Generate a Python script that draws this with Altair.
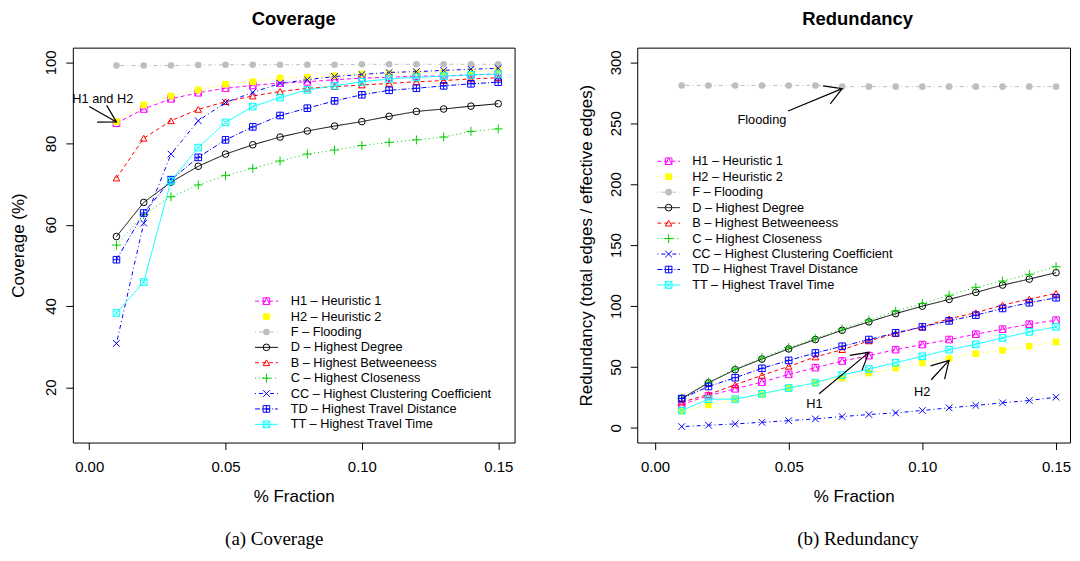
import altair as alt
import pandas as pd

FONT = "Liberation Sans"
SERIF = "Liberation Serif"

fractions = [0.01, 0.02, 0.03, 0.04, 0.05, 0.06, 0.07, 0.08, 0.09, 0.10, 0.11, 0.12, 0.13, 0.14, 0.15]

series_keys = ["H1", "H2", "F", "D", "B", "C", "CC", "TD", "TT"]
series_labels = [
    "H1 – Heuristic 1",
    "H2 – Heuristic 2",
    "F – Flooding",
    "D – Highest Degree",
    "B – Highest Betweeneess",
    "C – Highest Closeness",
    "CC – Highest Clustering Coefficient",
    "TD – Highest Travel Distance",
    "TT – Highest Travel Time",
]

# Coverage (%)
cov_h1 = [85.0, 88.5, 91.0, 92.5, 93.6, 94.3, 94.9, 95.2, 95.7, 96.1, 96.3, 96.6, 96.6, 96.9, 97.1]
cov_h2 = [85.4, 89.5, 91.7, 93.2, 94.6, 95.2, 96.1, 96.3, 96.7, 97.1, 97.3, 97.5, 97.5, 97.7, 98.0]
cov_f = [99.2, 99.2, 99.2, 99.3, 99.4, 99.4, 99.4, 99.4, 99.4, 99.5, 99.5, 99.5, 99.5, 99.5, 99.5]
cov_d = [57.1, 65.5, 70.5, 74.4, 77.4, 79.7, 81.6, 83.1, 84.3, 85.4, 86.7, 87.9, 88.5, 89.2, 89.8]
cov_b = [71.5, 81.3, 85.6, 88.4, 90.3, 91.7, 92.8, 93.6, 94.0, 94.4, 94.8, 95.2, 95.5, 95.9, 96.2]
cov_c = [55.0, 62.5, 66.9, 69.8, 72.1, 73.9, 75.7, 77.4, 78.4, 79.5, 80.3, 80.9, 81.6, 83.0, 83.6]
cov_cc = [30.8, 60.4, 77.4, 85.6, 90.1, 92.6, 94.8, 95.7, 96.5, 97.0, 97.5, 97.7, 98.0, 98.3, 98.5]
cov_td = [51.4, 62.9, 71.1, 76.6, 80.9, 84.1, 86.9, 88.7, 90.5, 92.0, 93.1, 93.6, 94.2, 94.7, 95.1]
cov_tt = [38.3, 45.9, 70.8, 79.0, 85.2, 89.1, 91.3, 93.2, 94.2, 95.2, 95.9, 96.3, 96.6, 96.9, 97.1]

# Redundancy (total edges / effective edges)
red_h1 = [19.2, 26.4, 32.1, 37.6, 43.9, 49.4, 54.9, 59.3, 64.2, 68.4, 72.5, 76.9, 81.0, 85.1, 88.4]
red_h2 = [13.7, 18.9, 23.3, 27.4, 32.7, 36.8, 40.9, 45.0, 49.1, 53.3, 56.8, 60.9, 63.7, 67.0, 70.5]
red_f = [281, 281, 281, 281, 281, 281, 280, 280, 280, 280, 280, 280, 280, 280, 280]
red_d = [24.1, 37.0, 47.8, 56.5, 64.8, 72.5, 80.1, 87.0, 93.8, 99.9, 105.4, 111.2, 117.2, 122.1, 127.4]
red_b = [21.1, 27.4, 35.4, 43.1, 50.5, 58.2, 64.2, 71.4, 77.4, 82.9, 89.5, 94.5, 100.8, 105.7, 110.4]
red_c = [24.4, 37.6, 48.3, 57.4, 65.9, 73.3, 81.3, 88.4, 95.8, 102.1, 108.9, 115.3, 120.5, 126.0, 132.3]
red_cc = [1.1, 2.2, 3.3, 4.6, 6.0, 7.4, 9.3, 11.0, 12.3, 14.3, 16.5, 18.4, 20.6, 22.5, 25.2]
red_td = [24.1, 34.0, 41.2, 48.9, 55.4, 61.5, 67.0, 72.5, 78.0, 82.9, 87.8, 92.5, 98.0, 102.7, 106.8]
red_tt = [14.3, 23.6, 23.6, 28.0, 32.7, 37.1, 43.4, 48.3, 53.5, 58.8, 64.2, 68.6, 73.8, 78.8, 82.9]

x_ticks = [0.0, 0.05, 0.10, 0.15]
cov_ticks = [20, 40, 60, 80, 100]
red_ticks = [0, 50, 100, 150, 200, 250, 300]

# styles
series_colors = ["#FF00FF", "#FFFF00", "#BEBEBE", "#000000", "#FF0000", "#00CD00", "#0000FF", "#0000FF", "#00FFFF"]
series_dashes = [[4, 3], [1, 3], [1, 3, 4, 3], [1, 0], [4, 3], [1, 3], [1, 3, 4, 3], [5, 2, 1, 2], [1, 0]]
SQ = "M-1,-1L1,-1L1,1L-1,1Z"
marker_shapes = [
    SQ + "M-1,1L0,-1L1,1",                 # square with triangle
    "square",                               # filled square
    "circle",                               # filled circle
    "circle",                               # open circle
    "triangle-up",                          # open triangle
    "M-1.35,0L1.35,0M0,-1.35L0,1.35",       # plus
    "M-1,-1L1,1M-1,1L1,-1",                 # x
    SQ + "M-1,0L1,0M0,-1L0,1",              # square with plus
    SQ + "M-1,-1L1,1M-1,1L1,-1",            # square with x
]
marker_sizes = [44, 44, 34, 44, 64, 44, 44, 44, 44]
filled_keys = ["H2", "F"]

color_scale = alt.Scale(domain=series_keys, range=series_colors)
dash_scale = alt.Scale(domain=series_keys, range=series_dashes)
shape_scale = alt.Scale(domain=series_keys, range=marker_shapes)
size_scale = alt.Scale(domain=series_keys, range=marker_sizes)

ARROW_HEAD = "M-0.5,0.866L0,0L0.5,0.866"


def long_frame(cols):
    rows = []
    for key, vals in zip(series_keys, cols):
        for f, v in zip(fractions, vals):
            rows.append({"key": key, "x": f, "y": v})
    return pd.DataFrame(rows)


def make_panel(df, x_domain, y_domain, y_ticks, y_title, title, legend, notes, arrows, w, h,
               ytitle_pad, title_dx):
    def X(field="x"):
        return alt.X(f"{field}:Q",
                     scale=alt.Scale(domain=x_domain, nice=False, zero=False),
                     axis=alt.Axis(values=x_ticks, format=".2f", title="% Fraction",
                                   labelPadding=10, titlePadding=14))

    def Y(field="y"):
        return alt.Y(f"{field}:Q",
                     scale=alt.Scale(domain=y_domain, nice=False, zero=False),
                     axis=alt.Axis(values=y_ticks, title=y_title, labelAngle=270,
                                   labelAlign="center", labelBaseline="alphabetic",
                                   labelPadding=10, titlePadding=ytitle_pad))

    color = alt.Color("key:N", scale=color_scale, legend=None)
    dash = alt.StrokeDash("key:N", scale=dash_scale, legend=None)
    shape = alt.Shape("key:N", scale=shape_scale, legend=None)
    size = alt.Size("key:N", scale=size_scale, legend=None)

    layers = []
    for k in series_keys:
        base = alt.Chart(df).transform_filter(alt.datum.key == k)
        layers.append(base.mark_line(strokeWidth=1).encode(x=X(), y=Y(), color=color, strokeDash=dash))
        layers.append(base.mark_point(filled=(k in filled_keys), opacity=1, strokeWidth=1)
                      .encode(x=X(), y=Y(), color=color, shape=shape, size=size))

    # legend drawn in data coordinates (like R's legend())
    leg_df = pd.DataFrame({"key": series_keys, "label": series_labels, "idx": list(range(len(series_keys)))})
    lx0, lx1, lxm, lxt, ly0, ldy = legend
    leg = alt.Chart(leg_df).transform_calculate(
        y=f"{ly0} - datum.idx * {ldy}", x=f"{lx0}", x2=f"{lx1}", xm=f"{lxm}", xt=f"{lxt}")
    layers.append(leg.mark_rule(strokeWidth=1).encode(x=X(), x2="x2:Q", y=Y(), color=color, strokeDash=dash))
    for k in series_keys:
        layers.append(leg.transform_filter(alt.datum.key == k)
                      .mark_point(filled=(k in filled_keys), opacity=1, strokeWidth=1)
                      .encode(x=X("xm"), y=Y(), color=color, shape=shape, size=size))
    layers.append(leg.mark_text(align="left", baseline="middle", font=FONT, fontSize=12.8, color="black")
                  .encode(x=X("xt"), y=Y(), text="label:N"))

    # annotations
    ndf = pd.DataFrame(notes, columns=["text", "x", "y"])
    layers.append(alt.Chart(ndf).mark_text(align="center", baseline="middle", font=FONT,
                                           fontSize=12.8, color="black")
                  .encode(x=X(), y=Y(), text="text:N"))
    adf = pd.DataFrame(arrows, columns=["x", "y", "x2", "y2", "ang"])
    layers.append(alt.Chart(adf).mark_rule(strokeWidth=1.2, color="black")
                  .encode(x=X(), y=Y(), x2="x2:Q", y2="y2:Q"))
    layers.append(alt.Chart(adf).mark_point(shape=ARROW_HEAD, filled=False, size=1500, strokeWidth=1.2,
                                            color="black", opacity=1)
                  .encode(x=X("x2"), y=Y("y2"), angle=alt.Angle("ang:Q", scale=None)))

    return alt.layer(*layers).properties(
        width=w, height=h,
        title=alt.TitleParams(title, font=FONT, fontSize=18.5, fontWeight="bold", anchor="middle",
                              frame="group", offset=19.5, dx=title_dx, color="black"))


cov_df = long_frame([cov_h1, cov_h2, cov_f, cov_d, cov_b, cov_c, cov_cc, cov_td, cov_tt])
red_df = long_frame([red_h1, red_h2, red_f, red_d, red_b, red_c, red_cc, red_td, red_tt])

left = make_panel(
    cov_df, [-0.006, 0.156], [6.4, 103.6], cov_ticks, "Coverage (%)", "Coverage",
    legend=(0.0608, 0.0692, 0.065, 0.0739, 41.2, 3.79),
    notes=[("H1 and H2", 0.005, 90.9)],
    arrows=[(0.0, 89.1, 0.01, 85.3, 119.5)],
    w=443, h=396, ytitle_pad=16, title_dx=0)

right = make_panel(
    red_df, [-0.00664, 0.15522], [-12, 312], red_ticks,
    "Redundancy (total edges / effective edges)", "Redundancy",
    legend=(0.0009, 0.0094, 0.0051, 0.0139, 218.8, 12.69),
    notes=[("Flooding", 0.040, 252.3), ("H1", 0.0596, 19.8), ("H2", 0.0999, 29.3)],
    arrows=[(0.0498, 260.0, 0.07, 278.4, 68.0),
            (0.0614, 28.0, 0.0800, 62.0, 51.0),
            (0.1033, 39.5, 0.1100, 55.4, 43.5)],
    w=434, h=396, ytitle_pad=13, title_dx=4)


def captioned(panel, caption, dx):
    return alt.vconcat(panel).properties(
        title=alt.TitleParams(caption, orient="bottom", font=SERIF, fontSize=19, fontWeight="normal",
                              anchor="middle", offset=25, dx=dx, color="black"))


chart = alt.hconcat(
    captioned(left, "(a)  Coverage", 12),
    captioned(right, "(b)  Redundancy", 34),
    spacing=61,
).properties(
    padding={"left": 1, "top": 0, "right": 0, "bottom": 0}
).configure_view(
    stroke="black", strokeWidth=1
).configure_axis(
    labelFont=FONT, labelFontSize=15, titleFont=FONT, titleFontSize=17, titleFontWeight="normal",
    labelColor="black", titleColor="black", tickColor="black", tickSize=7, tickWidth=1,
    domain=False, grid=False
)

chart.save("out.html", embed_options={"renderer": "svg", "actions": False})
